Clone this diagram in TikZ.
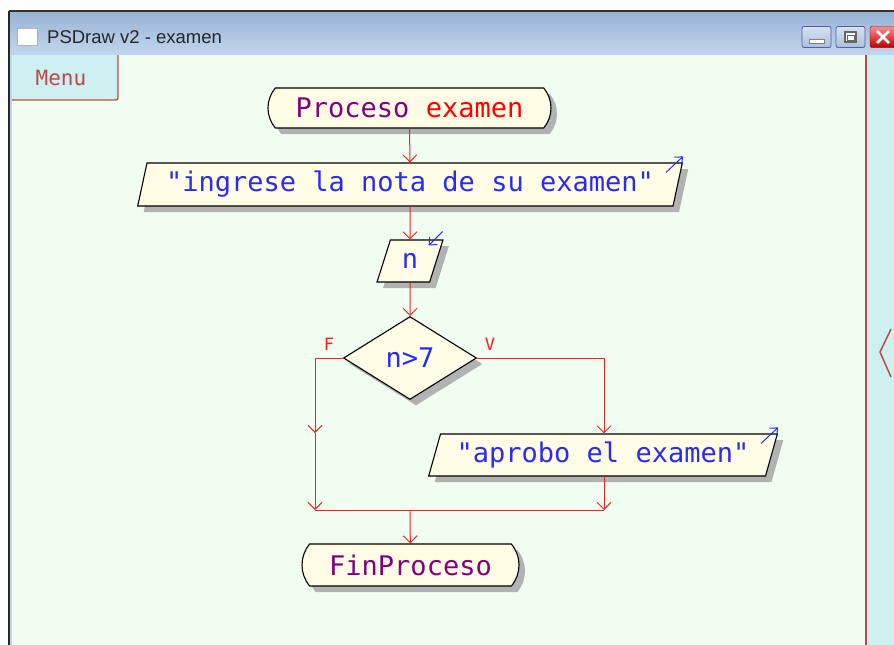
\documentclass[tikz,border=0pt]{standalone}
\usepackage{fontspec}
\usetikzlibrary{shapes.geometric,shapes.misc,arrows.meta,shadows}
\setmainfont{Liberation Sans}
\newfontfamily\psfont{DejaVu Sans Mono}

\definecolor{canvasbg}{HTML}{F2FDF2}
\definecolor{panelbg}{HTML}{CDF1F1}
\definecolor{panelline}{HTML}{C04848}
\definecolor{cream}{HTML}{FFFDE6}
\definecolor{shadowc}{HTML}{B2B2B2}
\definecolor{flowred}{HTML}{F52020}
\definecolor{txtblue}{HTML}{2A2AF5}
\definecolor{txtpurple}{HTML}{800080}
\definecolor{barTop}{HTML}{98B3D3}
\definecolor{barBot}{HTML}{C2D7EE}
\definecolor{btnTop}{HTML}{D6E3F2}
\definecolor{btnBot}{HTML}{A9C0DB}

\tikzset{
  shapebox/.style={draw=black, fill=cream, line width=1.1pt, inner sep=0pt,
    drop shadow={shadow xshift=6pt, shadow yshift=-6pt, fill=shadowc, opacity=1}},
  terminal/.style={shapebox, rounded rectangle, rounded rectangle arc length=80},
  iobox/.style={shapebox, trapezium, trapezium stretches=true},
  decision/.style={shapebox, diamond},
  pstext/.style={font=\psfont\fontsize{27}{30}\selectfont},
  flow/.style={draw=flowred, line width=1pt, -{Straight Barb[length=7pt,width=14pt,line width=1pt]}},
  flowline/.style={draw=flowred, line width=1pt},
  iomark/.style={draw=txtblue, line width=1pt, -{Straight Barb[length=6pt,width=11pt,line width=1pt]}},
  branchlbl/.style={text=flowred, font=\psfont\fontsize{17}{18}\selectfont, inner sep=0pt},
  winbtn/.style={draw=gray!70!blue, line width=0.8pt, rounded corners=2pt, top color=btnTop, bottom color=btnBot},
}

\begin{document}
\begin{tikzpicture}[x=1pt, y=-1pt]
  \useasboundingbox (0,0) rectangle (894,645);
  \fill[white] (0,0) rectangle (894,645);

  % window frame and title bar
  \shade[top color=barTop, bottom color=barBot] (9,12) rectangle (894,55);
  \draw[black!80, line width=2pt] (9,11) -- (894,11);
  \draw[black!85, line width=2pt] (9,11) -- (9,645);
  \fill[barBot] (10,55) rectangle (12,645);
  \node[draw=gray!60, fill=white, minimum width=20pt, minimum height=17pt, inner sep=0pt] (icon) at (27,37) {};
  \node[anchor=west, font=\fontsize{18.5}{20}\selectfont, text=black!85, inner sep=0pt] (title) at (47,37) {PSDraw v2 - examen};
  \node[winbtn, minimum width=29pt, minimum height=21pt] (bmin) at (816.5,37) {};
  \fill[white, draw=gray] (809,39) rectangle (824,43);
  \node[winbtn, minimum width=29pt, minimum height=21pt] (bmax) at (850.5,37) {};
  \draw[gray!80!black, line width=1.2pt, fill=white] (845,32) rectangle (856,42);
  \draw[gray!80!black, line width=1pt] (847,35) rectangle (854,40);
  \node[draw=red!40!black, rounded corners=2pt, top color=red!45!white, bottom color=red!75!black, minimum width=30pt, minimum height=21pt] (bclose) at (885,37) {};
  \draw[white, line width=2.6pt] (877,31) -- (889,43) (877,43) -- (889,31);

  % drawing canvas and side panel
  \fill[canvasbg] (12,55) rectangle (866,645);
  \fill[panelbg] (866,55) rectangle (894,645);
  \draw[panelline, line width=1.5pt] (866,55) -- (866,645);
  \draw[panelline, line width=1.5pt] (891,329) -- (880,352) -- (891,377);

  % menu tab
  \fill[panelbg] (12,55) rectangle (118,100);
  \draw[panelline, line width=1.3pt, rounded corners=2pt] (118,55) -- (118,100) -- (12,100);
  \node[text=panelline, font=\psfont\fontsize{21}{22}\selectfont] (menu) at (61,78) {Menu};

  % flowchart blocks
  \node[terminal, minimum width=283pt, minimum height=40pt, pstext] (start) at (409.5,108)
    {\textcolor{txtpurple}{Proceso} \textcolor{red}{examen}};
  \node[iobox, trapezium left angle=72, trapezium right angle=108,
        minimum width=548pt, minimum height=43pt, pstext, text=txtblue] (ask) at (410,184.5)
    {"ingrese la nota de su examen"};
  \node[iobox, trapezium left angle=70, trapezium right angle=110,
        minimum width=66pt, minimum height=42pt, pstext, text=txtblue] (read) at (410,261) {n};
  \node[decision, minimum width=133pt, minimum height=83pt, pstext, text=txtblue] (cond) at (410,358) {n>7};
  \node[iobox, trapezium left angle=68, trapezium right angle=112,
        minimum width=350pt, minimum height=42pt, pstext, text=txtblue] (pass) at (603,455)
    {"aprobo el examen"};
  \node[terminal, minimum width=217pt, minimum height=42pt, pstext, text=txtpurple] (finish) at (410.5,565) {FinProceso};

  % input / output marks at the upper right corners
  \draw[iomark] ([shift={(-17,10)}]ask.top right corner) -- ([shift={(0,-6)}]ask.top right corner);
  \draw[iomark] ([shift={(-1,-8)}]read.top right corner) -- ([shift={(-15,6)}]read.top right corner);
  \draw[iomark] ([shift={(-17,10)}]pass.top right corner) -- ([shift={(0,-6)}]pass.top right corner);

  % branch labels
  \node[branchlbl] (lf) at (329,344) {F};
  \node[branchlbl] (lv) at (490,344) {V};

  % junction points
  \coordinate (jl) at (315,358);
  \coordinate (jlm) at (315,433);
  \coordinate (jlb) at (315,510);
  \coordinate (jr) at (604,358);
  \coordinate (jrb) at (604,510);
  \coordinate (jm) at (410,510);

  % connectors
  \draw[flow] (start) -- (ask);
  \draw[flow] (ask) -- (read);
  \draw[flow] (read) -- (cond);
  \draw[flow] (cond.west) -- (jl) -- (jlm);
  \draw[flow] (jlm) -- (jlb);
  \draw[flow] (cond.east) -- (jr) -- (jr |- pass.north);
  \draw[flow] (jr |- pass.south) -- (jrb);
  \draw[flowline] (jlb) -- (jrb);
  \draw[flow] (jm) -- (finish);
\end{tikzpicture}
\end{document}
